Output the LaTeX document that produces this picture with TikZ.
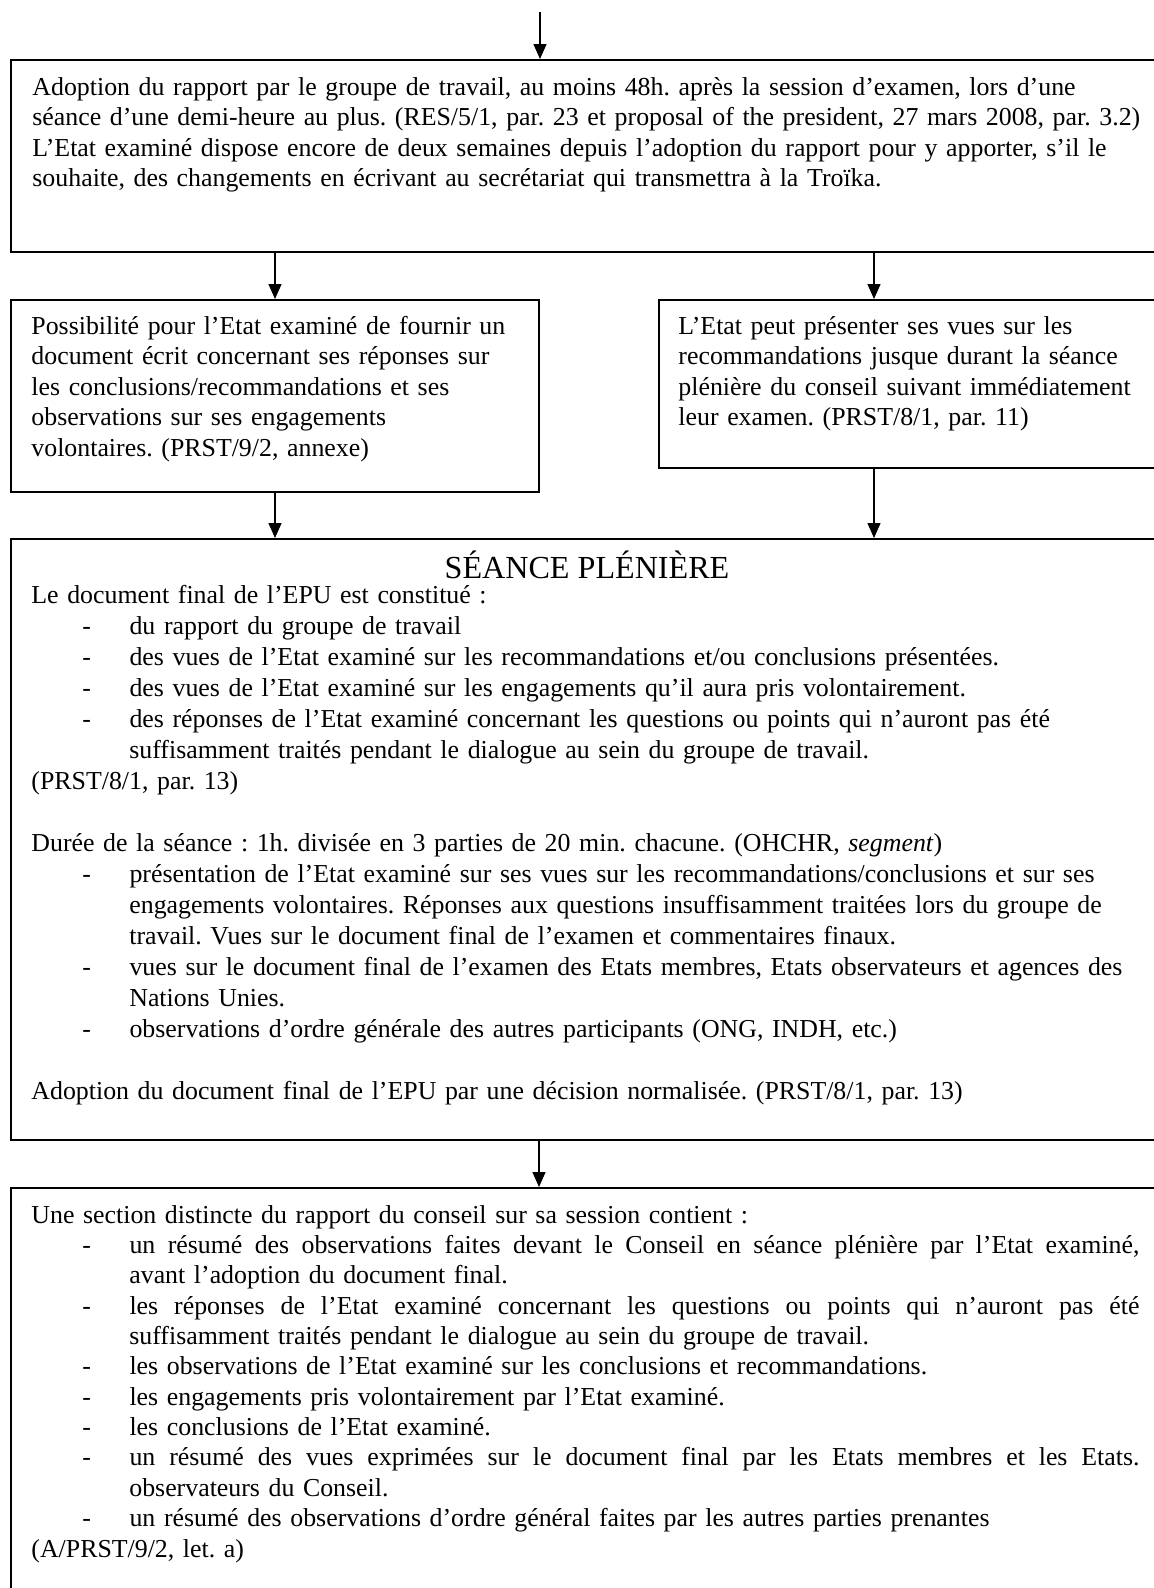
\documentclass[tikz,border=0pt]{standalone}
\usepackage{fontspec}
\setmainfont{Liberation Serif}
\usetikzlibrary{arrows.meta,fit}
\frenchspacing
\newcommand\myBul{\hspace*{23.2pt}\makebox[21.4pt][l]{-}}
\newcommand\myCont{\hspace*{44.5pt}}
\newcommand\myJust[1]{\hbox to 459pt{\spaceskip=0.25em plus 10em\relax #1}}
\begin{document}
\frenchspacing
\begin{tikzpicture}[x=0.4545pt,y=-0.4545pt,
  box/.style={draw, line width=0.9pt, inner sep=0pt},
  arr/.style={line width=0.6pt, -{Triangle[length=6.8pt,width=5.9pt]}},
  txt/.style={anchor=base west, inner sep=0pt, text width=620pt, align=left,
              font=\fontsize{11.75pt}{13.9pt}\selectfont},
  title/.style={anchor=base, inner sep=0pt, font=\fontsize{14.6pt}{16pt}\selectfont}]
\useasboundingbox (0,0) rectangle (1154,1588);
\clip (0,0) rectangle (1154,1588);

% box corners
\coordinate (b1a) at (11,60);   \coordinate (b1b) at (1170,252);
\coordinate (b2a) at (11,300);  \coordinate (b2b) at (539,492);
\coordinate (b3a) at (659,300); \coordinate (b3b) at (1170,468);
\coordinate (b4a) at (11,539);  \coordinate (b4b) at (1170,1140);
\coordinate (b5a) at (11,1188); \coordinate (b5b) at (1170,1640);

\node[box, fit=(b1a)(b1b)] (b1) {};
\node[box, fit=(b2a)(b2b)] (b2) {};
\node[box, fit=(b3a)(b3b)] (b3) {};
\node[box, fit=(b4a)(b4b)] (b4) {};
\node[box, fit=(b5a)(b5b)] (b5) {};

% connector guides
\coordinate (top) at (540,12);
\coordinate (xr) at (874,0);
\coordinate (xm) at (539,0);

\draw[arr] (top) -- (top |- b1.north);
\draw[arr] (b2.north |- b1.south) -- (b2.north);
\draw[arr] (xr |- b1.south) -- (xr |- b3.north);
\draw[arr] (b2.south) -- (b2.south |- b4.north);
\draw[arr] (xr |- b3.south) -- (xr |- b4.north);
\draw[arr] (xm |- b4.south) -- (xm |- b5.north);

% texts
\node[txt] (t1) at (32,95) {Adoption du rapport par le groupe de travail, au moins 48h. après la session d’examen, lors d’une\\
séance d’une demi-heure au plus. (RES/5/1, par. 23 et proposal of the president, 27 mars 2008, par. 3.2)\\
L’Etat examiné dispose encore de deux semaines depuis l’adoption du rapport pour y apporter, s’il le\\
souhaite, des changements en écrivant au secrétariat qui transmettra à la Troïka.};

\node[txt] (t2) at (31,334) {Possibilité pour l’Etat examiné de fournir un\\
document écrit concernant ses réponses sur\\
les conclusions/recommandations et ses\\
observations sur ses engagements\\
volontaires. (PRST/9/2, annexe)};

\node[txt] (t3) at (678,334) {L’Etat peut présenter ses vues sur les\\
recommandations jusque durant la séance\\
plénière du conseil suivant immédiatement\\
leur examen. (PRST/8/1, par. 11)};

\node[title] (t4h) at (587,578) {SÉANCE PLÉNIÈRE};

\node[txt, font=\fontsize{11.75pt}{14.1pt}\selectfont] (t4) at (31,603) {Le document final de l’EPU est constitué :\\
\myBul du rapport du groupe de travail\\
\myBul des vues de l’Etat examiné sur les recommandations et/ou conclusions présentées.\\
\myBul des vues de l’Etat examiné sur les engagements qu’il aura pris volontairement.\\
\myBul des réponses de l’Etat examiné concernant les questions ou points qui n’auront pas été\\
\myCont suffisamment traités pendant le dialogue au sein du groupe de travail.\\
(PRST/8/1, par. 13)\\[14.1pt]
Durée de la séance : 1h. divisée en 3 parties de 20 min. chacune. (OHCHR, \textit{segment})\\
\myBul présentation de l’Etat examiné sur ses vues sur les recommandations/conclusions et sur ses\\
\myCont engagements volontaires. Réponses aux questions insuffisamment traitées lors du groupe de\\
\myCont travail. Vues sur le document final de l’examen et commentaires finaux.\\
\myBul vues sur le document final de l’examen des Etats membres, Etats observateurs et agences des\\
\myCont Nations Unies.\\
\myBul observations d’ordre générale des autres participants (ONG, INDH, etc.)\\[14.1pt]
Adoption du document final de l’EPU par une décision normalisée. (PRST/8/1, par. 13)};

\node[txt, font=\fontsize{11.75pt}{13.8pt}\selectfont] (t5) at (31,1223) {Une section distincte du rapport du conseil sur sa session contient :\\
\myBul\myJust{un résumé des observations faites devant le Conseil en séance plénière par l’Etat examiné,}\\
\myCont avant l’adoption du document final.\\
\myBul\myJust{les réponses de l’Etat examiné concernant les questions ou points qui n’auront pas été}\\
\myCont suffisamment traités pendant le dialogue au sein du groupe de travail.\\
\myBul les observations de l’Etat examiné sur les conclusions et recommandations.\\
\myBul les engagements pris volontairement par l’Etat examiné.\\
\myBul les conclusions de l’Etat examiné.\\
\myBul\myJust{un résumé des vues exprimées sur le document final par les Etats membres et les Etats.}\\
\myCont observateurs du Conseil.\\
\myBul un résumé des observations d’ordre général faites par les autres parties prenantes\\
(A/PRST/9/2, let. a)};
\end{tikzpicture}
\end{document}
